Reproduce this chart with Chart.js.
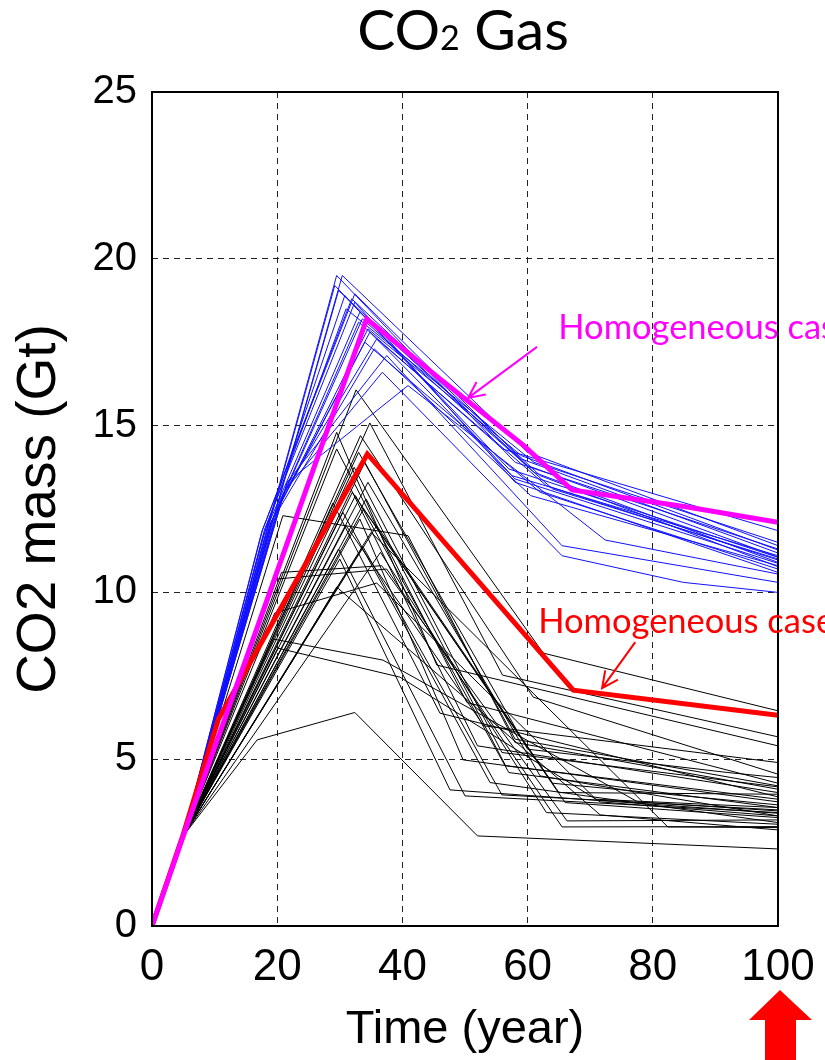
<!DOCTYPE html>
<html>
<head>
<meta charset="utf-8">
<script src="https://cdn.jsdelivr.net/npm/chart.js@4.4.1/dist/chart.umd.min.js"></script>
<style>
  html, body { margin: 0; padding: 0; background: #fff; }
  #co2gas { display: block; }
</style>
</head>
<body>
<canvas id="co2gas" width="825" height="1060" style="width:825px;height:1060px"></canvas>
<script>
// axis ticks
const yearTicks = [0, 20, 40, 60, 80, 100];
const massTicks = [0, 5, 10, 15, 20, 25];

// homogeneous reference runs, [year, Gt]
const homogeneousMagenta = [[0, 0], [5, 2.7], [34.3, 18.2], [46, 16.4], [59.4, 14.4], [67.1, 13.07], [85.5, 12.56], [100, 12.1]];
const homogeneousRed = [[0, 0], [5, 2.75], [10.6, 6.2], [34.4, 14.15], [67.3, 7.07], [100, 6.32]];

// heterogeneous realisations, upper group
const blueRuns = [
  [[0, 0], [5, 2.7], [29.5, 19.5], [58, 13.9], [100, 11.3]],
  [[0, 0], [5, 2.7], [30.4, 19.5], [60, 14.2], [100, 11.4]],
  [[0, 0], [5, 2.7], [29.2, 19.2], [57, 13.7], [100, 11.05]],
  [[0, 0], [5, 2.7], [29.8, 19.05], [61, 13.6], [100, 10.9]],
  [[0, 0], [5, 2.7], [17.7, 11.9], [32.4, 18.95], [59, 14.0], [100, 11.18]],
  [[0, 0], [5, 2.7], [17.5, 11.8], [31.9, 18.8], [62, 13.5], [100, 10.77]],
  [[0, 0], [5, 2.7], [18, 11.9], [32.4, 18.7], [58, 13.3], [100, 10.6]],
  [[0, 0], [5, 2.7], [18.5, 12.0], [33.2, 18.4], [60, 13.8], [100, 11.06]],
  [[0, 0], [5, 2.7], [19, 12.1], [34.5, 17.9], [59, 14.1], [100, 11.27]],
  [[0, 0], [5, 2.7], [19.5, 12.3], [34.8, 17.8], [58, 13.4], [100, 10.87]],
  [[0, 0], [5, 2.7], [20.5, 12.8], [35.9, 17.6], [63, 13.2], [100, 10.97]],
  [[0, 0], [5, 2.7], [21.6, 13.3], [37.5, 17.1], [65.5, 11.4], [100, 10.3]],
  [[0, 0], [5, 2.7], [21, 13.0], [36.8, 16.6], [65.5, 11.1], [84.9, 10.3], [100, 10.0]],
  [[0, 0], [5, 2.7], [21.6, 13.3], [40.9, 16.2], [72.4, 11.57], [100, 10.55]],
  [[0, 0], [5, 2.7], [18, 11.8], [31, 18.5], [61, 13.9], [100, 11.5]],
  [[0, 0], [5, 2.7], [18.8, 12.0], [33, 18.1], [56, 14.3], [100, 11.85]],
  [[0, 0], [5, 2.7], [19, 12.1], [34, 17.5], [62, 13.0], [100, 10.7]],
  [[0, 0], [5, 2.7], [20, 12.4], [35.5, 17.3], [60.5, 12.9], [100, 10.8]],
  [[0, 0], [5, 2.7], [17.8, 11.7], [30.8, 18.9], [57.5, 13.5], [100, 11.1]],
  [[0, 0], [5, 2.7], [19.3, 12.2], [33.6, 18.2], [64, 13.1], [100, 11.0]]
];

// heterogeneous realisations, lower group
const blackRuns = [
  [[0, 0], [5, 2.7], [32.6, 16.07], [62.5, 8.18], [100, 6.45]],
  [[0, 0], [5, 2.7], [34.8, 15.08], [56, 7.52], [100, 5.67]],
  [[0, 0], [5, 2.7], [29.5, 14.8], [45.5, 7.82], [100, 5.4]],
  [[0, 0], [5, 2.7], [33.3, 14.7], [60.9, 6.86], [100, 4.55]],
  [[0, 0], [5, 2.7], [29.5, 14.3], [50.3, 6.7], [100, 4.28]],
  [[0, 0], [5, 2.7], [32.3, 13.75], [55.9, 5.2], [100, 4.17]],
  [[0, 0], [5, 2.7], [28.9, 12.68], [46, 6.38], [100, 3.87]],
  [[0, 0], [5, 2.7], [33.2, 12.2], [49.7, 4.98], [100, 3.72]],
  [[0, 0], [5, 2.7], [35.9, 12.0], [64, 4.28], [100, 3.63]],
  [[0, 0], [5, 2.7], [33.7, 11.37], [55.9, 3.93], [100, 3.48]],
  [[0, 0], [5, 2.7], [30, 11.0], [47.6, 4.08], [100, 3.38]],
  [[0, 0], [5, 2.7], [20.7, 10.6], [36.7, 10.8], [66.3, 3.15], [100, 3.18]],
  [[0, 0], [5, 2.7], [19.9, 10.4], [37.5, 10.7], [65.5, 2.97], [100, 2.98]],
  [[0, 0], [5, 2.7], [22.5, 7.97], [29.5, 10.16], [71.6, 3.33], [100, 2.88]],
  [[0, 0], [5, 2.7], [19.6, 9.38], [35.9, 10.28], [70.9, 3.8], [100, 3.55]],
  [[0, 0], [5, 2.7], [19.4, 8.6], [36.9, 7.97], [77.6, 3.72], [100, 3.45]],
  [[0, 0], [5, 2.7], [20.1, 8.33], [39.6, 7.46], [71.6, 3.72], [100, 3.3]],
  [[0, 0], [5, 2.7], [16.8, 5.58], [32.4, 6.4], [52, 2.7], [100, 2.31]],
  [[0, 0], [5, 2.7], [20.9, 12.3], [40.9, 11.7], [58, 5.5], [100, 4.1]],
  [[0, 0], [5, 2.7], [31.5, 13.2], [52, 5.4], [100, 4.0]],
  [[0, 0], [5, 2.7], [34, 13.9], [58, 5.6], [100, 4.2]],
  [[0, 0], [5, 2.7], [32.5, 12.9], [57, 4.6], [100, 3.55]],
  [[0, 0], [5, 2.7], [34.5, 13.3], [62, 4.5], [100, 3.3]],
  [[0, 0], [5, 2.7], [30.5, 12.4], [54, 4.3], [100, 3.1]],
  [[0, 0], [5, 2.7], [33.8, 12.5], [66, 3.7], [100, 3.25]],
  [[0, 0], [5, 2.7], [35, 11.8], [82.4, 2.97], [100, 2.95]],
  [[0, 0], [5, 2.7], [31, 12.0], [53, 6.0], [100, 4.9]],
  [[0, 0], [5, 2.7], [33, 14.2], [60, 5.3], [92, 4.6], [100, 4.45]],
  [[0, 0], [5, 2.7], [36.5, 11.2], [63, 3.4], [100, 3.05]],
  [[0, 0], [5, 2.7], [29.8, 11.3], [50, 3.9], [100, 3.4]],
  [[0, 0], [5, 2.7], [34.2, 12.8], [56.5, 4.8], [100, 3.8]],
  [[0, 0], [5, 2.7], [32, 13.0], [65, 4.0], [100, 3.95]]
];

const toPoints = (run) => run.map(function (p) { return { x: p[0], y: p[1] }; });

const runLine = (run, color, width) => ({
  data: toPoints(run),
  borderColor: color,
  borderWidth: width,
  pointRadius: 0,
  tension: 0,
  fill: false
});

// first dataset is painted last, so thick lines go first
const datasets = [
  runLine(homogeneousMagenta, '#ff00ff', 5),
  runLine(homogeneousRed, '#ff0000', 5)
]
  .concat(blueRuns.map(function (r) { return runLine(r, '#1010ff', 1); }))
  .concat(blackRuns.map(function (r) { return runLine(r, '#000000', 1); }));

// title, call-outs, frame and the marker under t = 100
const decorations = {
  id: 'decorations',
  afterDatasetsDraw(chart) {
    const ctx = chart.ctx;
    const area = chart.chartArea;
    const xs = chart.scales.x;
    const ys = chart.scales.y;
    const px = (t) => xs.getPixelForValue(t);
    const py = (m) => ys.getPixelForValue(m);

    ctx.save();
    ctx.strokeStyle = '#000';
    ctx.lineWidth = 2;
    ctx.strokeRect(area.left, area.top, area.right - area.left, area.bottom - area.top);

    // title with subscript
    ctx.fillStyle = '#000';
    ctx.textBaseline = 'alphabetic';
    ctx.textAlign = 'left';
    const big = '57px Lato';
    const small = '34px Lato';
    ctx.font = big;
    const wCO = ctx.measureText('CO').width;
    const wGas = ctx.measureText(' Gas').width;
    ctx.font = small;
    const w2 = ctx.measureText('2').width;
    let tx = 463 - (wCO + w2 + wGas) / 2;
    ctx.font = big;
    ctx.fillText('CO', tx, 50);
    tx += wCO;
    ctx.font = small;
    ctx.fillText('2', tx, 50);
    tx += w2;
    ctx.font = big;
    ctx.fillText(' Gas', tx, 50);

    // call-outs
    const arrow = (x1, y1, x2, y2, color) => {
      const a = Math.atan2(y2 - y1, x2 - x1);
      const head = 18;
      ctx.strokeStyle = color;
      ctx.lineWidth = 2;
      ctx.beginPath();
      ctx.moveTo(x1, y1);
      ctx.lineTo(x2, y2);
      ctx.moveTo(x2 - head * Math.cos(a - 0.45), y2 - head * Math.sin(a - 0.45));
      ctx.lineTo(x2, y2);
      ctx.lineTo(x2 - head * Math.cos(a + 0.45), y2 - head * Math.sin(a + 0.45));
      ctx.stroke();
    };
    ctx.font = '34.5px Lato';
    ctx.fillStyle = '#ff00ff';
    ctx.fillText('Homogeneous case', px(64.9), py(17.6));
    arrow(px(61.5), py(17.36), px(50.5), py(15.83), '#ff00ff');
    ctx.fillStyle = '#ff0000';
    ctx.fillText('Homogeneous case', px(61.7), py(8.78));
    arrow(px(77.2), py(8.51), px(71.9), py(7.13), '#ff0000');

    // block arrow under the last year
    const cx = px(100) + 2;
    ctx.fillStyle = '#ff0000';
    ctx.beginPath();
    ctx.moveTo(cx, 990);
    ctx.lineTo(cx + 32, 1020);
    ctx.lineTo(cx + 16, 1020);
    ctx.lineTo(cx + 16, 1060);
    ctx.lineTo(cx - 15, 1060);
    ctx.lineTo(cx - 15, 1020);
    ctx.lineTo(cx - 31, 1020);
    ctx.closePath();
    ctx.fill();
    ctx.restore();
  }
};

new Chart(document.getElementById('co2gas'), {
  type: 'line',
  data: { datasets: datasets },
  options: {
    responsive: false,
    animation: false,
    devicePixelRatio: 1,
    layout: { padding: { top: 92, right: 47, left: 0, bottom: 0 } },
    plugins: {
      legend: { display: false },
      tooltip: { enabled: false },
      title: { display: false }
    },
    scales: {
      x: {
        type: 'linear',
        min: 0,
        max: 100,
        afterFit: function (scale) {
          scale.height = 134;
          scale.paddingLeft = 0;
          scale.paddingRight = 0;
        },
        afterBuildTicks: function (scale) {
          scale.ticks = yearTicks.map(function (v) { return { value: v }; });
        },
        ticks: {
          color: '#000',
          font: { family: 'Liberation Sans', size: 44 },
          padding: 15,
          maxRotation: 0
        },
        grid: { color: '#222', lineWidth: 1, drawTicks: false },
        border: { display: false, dash: [6, 5] },
        title: {
          display: true,
          text: 'Time (year)',
          color: '#000',
          font: { family: 'Liberation Sans', size: 47 },
          padding: { top: 0, bottom: 2 }
        }
      },
      y: {
        min: 0,
        max: 25,
        afterFit: function (scale) {
          scale.width = 152;
          scale.paddingTop = 0;
          scale.paddingBottom = 0;
        },
        afterBuildTicks: function (scale) {
          scale.ticks = massTicks.map(function (v) { return { value: v }; });
        },
        ticks: {
          color: '#000',
          font: { family: 'Liberation Sans', size: 40 },
          padding: 15
        },
        grid: { color: '#222', lineWidth: 1, drawTicks: false },
        border: { display: false, dash: [6, 5] },
        title: {
          display: true,
          text: 'CO2 mass (Gt)',
          color: '#000',
          font: { family: 'Liberation Sans', size: 55 },
          padding: { top: 7, bottom: 0 }
        }
      }
    }
  },
  plugins: [decorations]
});
</script>
</body>
</html>
